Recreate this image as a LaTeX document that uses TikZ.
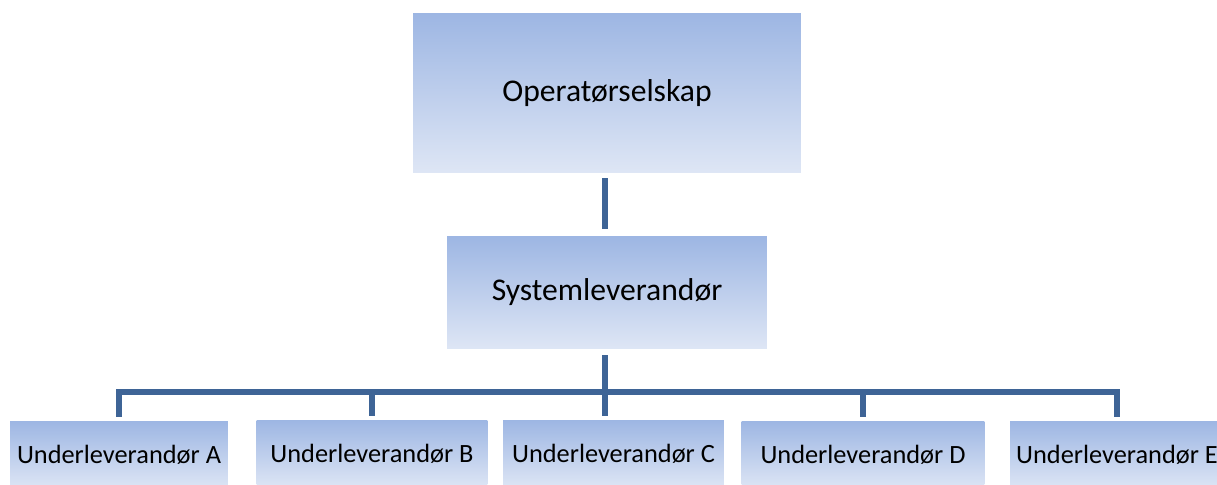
\documentclass[tikz,border=0pt]{standalone}
\usepackage{fontspec}
\setmainfont{Carlito}
\usetikzlibrary{positioning}
\definecolor{boxtop}{RGB}{157,182,227}
\definecolor{boxbottom}{RGB}{222,230,245}
\definecolor{linkblue}{RGB}{62,100,150}
\tikzset{
    % Boxes
    box/.style={rectangle,inner sep=0pt,draw=none,top color=boxtop,bottom color=boxbottom},
    org box/.style={box,font=\fontsize{18}{22}\selectfont},
    sub box/.style={box,minimum width=#1,minimum height=1.36cm,font=\fontsize{15}{18}\selectfont},
    %
    % Connectors
    link/.style={draw=linkblue,line width=0.11cm},
}

\begin{document}
\begin{tikzpicture}[x=0.02cm,y=-0.02cm]
    \useasboundingbox (0,0) rectangle (1217,484);
    \clip (0,0) rectangle (1217,484);
    \node[org box,minimum width=7.76cm,minimum height=3.2cm] (operator) at (607,93) {Operatørselskap};
    \node[org box,minimum width=6.4cm,minimum height=2.26cm] (supplier) at (607,292.5) {Systemleverandør};
    \node[sub box=4.36cm] (subA) at (119,455) {Underleverandør A};
    \node[sub box=4.62cm] (subB) at (372,454) {Underleverandør B};
    \node[sub box=4.42cm] (subC) at (613.5,454) {Underleverandør C};
    \node[sub box=4.86cm] (subD) at (863,455) {Underleverandør D};
    \node[sub box=4.28cm] (subE) at (1117,455) {Underleverandør E};
    \coordinate (bus) at (605,392);
    \draw[link,shorten <=0.1cm,shorten >=0.14cm] (operator.south -| bus) -- (supplier.north -| bus);
    \draw[link,shorten <=0.12cm] (supplier.south -| bus) -- (bus);
    \foreach \sub in {subA,subB,subD,subE}
        \draw[link,shorten >=0.08cm] (bus) -| (\sub.north);
    \draw[link,shorten >=0.08cm] (bus) -- (subC.north -| bus);
\end{tikzpicture}
\end{document}
